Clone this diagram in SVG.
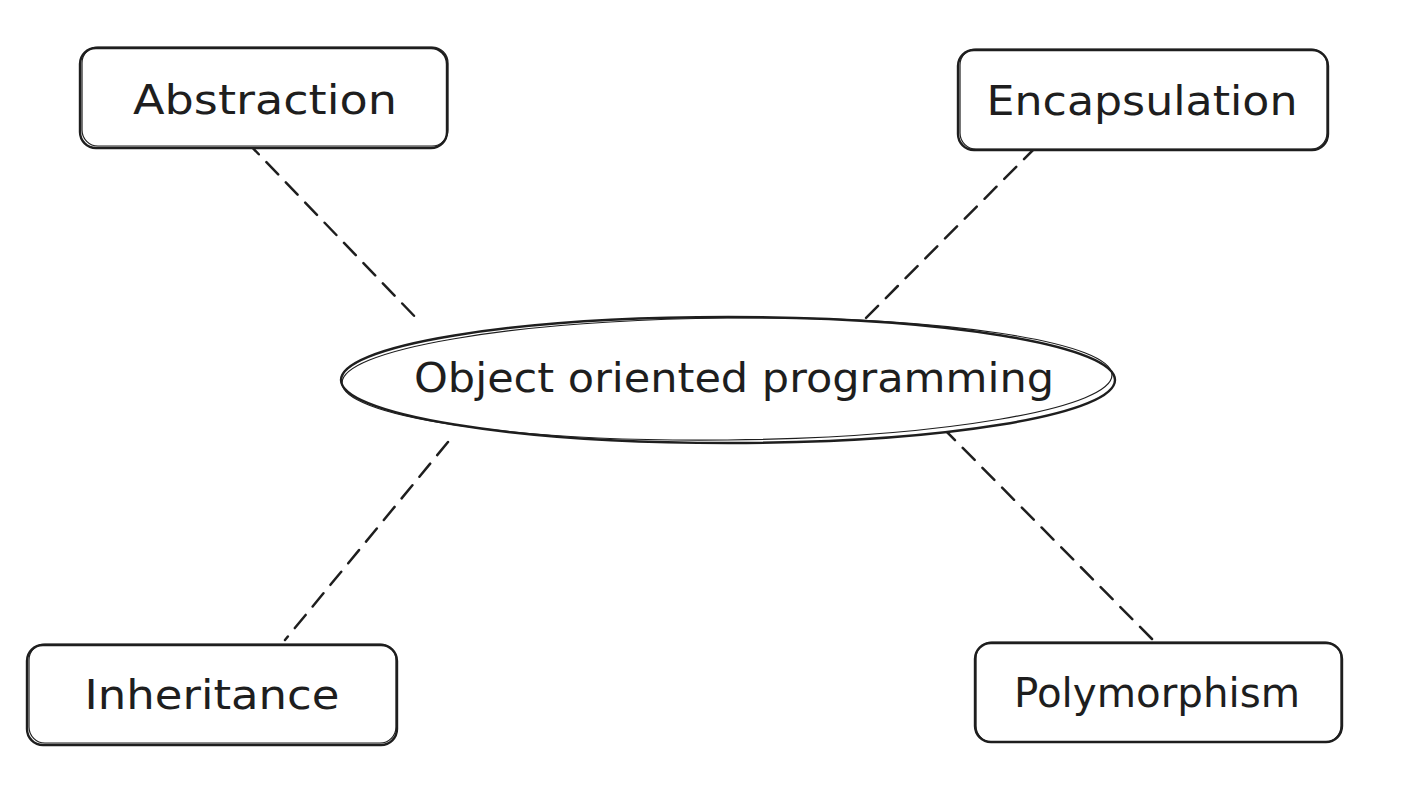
<svg xmlns="http://www.w3.org/2000/svg" width="1404" height="800" viewBox="0 0 1404 800">
  <style>
    .box { fill: #ffffff; stroke: #1e1e1e; stroke-width: 2.4; }
    .box2 { fill: none; stroke: #1e1e1e; stroke-width: 1.2; }
    .lbl { font-family: "DejaVu Sans", "Liberation Sans", sans-serif; font-size: 40px; fill: #1e1e1e; text-anchor: middle; }
    .conn { fill: none; stroke: #1e1e1e; stroke-width: 2.5; stroke-dasharray: 17 11; stroke-linecap: round; }
  </style>
  <rect x="0" y="0" width="1404" height="800" fill="#ffffff"/>
  <g id="connectors">
    <line class="conn" x1="247" y1="142" x2="420" y2="322"/>
    <line class="conn" x1="1036" y1="147" x2="864" y2="320"/>
    <line class="conn" x1="448" y1="442" x2="285" y2="640"/>
    <line class="conn" x1="943" y1="428" x2="1153" y2="640"/>
  </g>
  <g id="node-oop">
    <ellipse class="box" cx="728" cy="380" rx="387" ry="63"/>
    <ellipse class="box2" cx="727" cy="379" rx="385" ry="61" transform="rotate(-0.6 727 379)"/>
    <text class="lbl" x="734" y="392" textLength="640" lengthAdjust="spacingAndGlyphs">Object oriented programming</text>
  </g>
  <g id="node-abstraction">
    <rect class="box" x="80" y="48" width="367" height="100" rx="16"/>
    <rect class="box2" x="82" y="47" width="366" height="99" rx="16"/>
    <text class="lbl" x="265" y="114" textLength="264" lengthAdjust="spacingAndGlyphs">Abstraction</text>
  </g>
  <g id="node-encapsulation">
    <rect class="box" x="958" y="50" width="370" height="100" rx="16"/>
    <rect class="box2" x="960" y="49" width="367" height="100" rx="16"/>
    <text class="lbl" x="1142" y="115" textLength="311" lengthAdjust="spacingAndGlyphs">Encapsulation</text>
  </g>
  <g id="node-inheritance">
    <rect class="box" x="27" y="645" width="370" height="100" rx="16"/>
    <rect class="box2" x="29" y="644" width="367" height="99" rx="16"/>
    <text class="lbl" x="212" y="709" textLength="255" lengthAdjust="spacingAndGlyphs">Inheritance</text>
  </g>
  <g id="node-polymorphism">
    <rect class="box" x="975" y="643" width="367" height="99" rx="16"/>
    <rect class="box2" x="976" y="642" width="365" height="100" rx="16"/>
    <text class="lbl" x="1157" y="707" textLength="286" lengthAdjust="spacingAndGlyphs">Polymorphism</text>
  </g>
</svg>
